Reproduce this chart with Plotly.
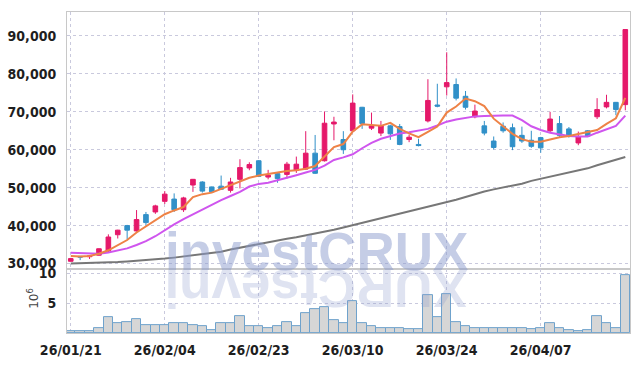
import plotly.graph_objects as go
from plotly.subplots import make_subplots

dates = [
    "26/01/21", "26/01/22", "26/01/23", "26/01/26", "26/01/27", "26/01/28", "26/01/29", "26/01/30",
    "26/02/02", "26/02/03", "26/02/04", "26/02/05", "26/02/06", "26/02/09", "26/02/10", "26/02/11",
    "26/02/12", "26/02/13", "26/02/19", "26/02/20", "26/02/23", "26/02/24", "26/02/25", "26/02/26",
    "26/02/27", "26/03/03", "26/03/04", "26/03/05", "26/03/06", "26/03/09", "26/03/10", "26/03/11",
    "26/03/12", "26/03/13", "26/03/16", "26/03/17", "26/03/18", "26/03/19", "26/03/20", "26/03/23",
    "26/03/24", "26/03/25", "26/03/26", "26/03/27", "26/03/30", "26/03/31", "26/04/01", "26/04/02",
    "26/04/03", "26/04/06", "26/04/07", "26/04/08", "26/04/09", "26/04/10", "26/04/13", "26/04/14",
    "26/04/15", "26/04/16", "26/04/17", "26/04/20",
]

tick_dates = ["26/01/21", "26/02/04", "26/02/23", "26/03/10", "26/03/24", "26/04/07"]

open_ = [30600, 31900, 31800, 32200, 33300, 37600, 40000, 38600, 42900, 43600,
         46400, 47000, 44200, 50700, 51500, 50200, 50400, 49300, 52200, 55200,
         57100, 52800, 53700, 53500, 54600, 54900, 59100, 57100, 66800, 62700,
         65000, 71200, 65700, 64400, 66300, 66100, 62700, 61400, 67600, 71800,
         76600, 77200, 74100, 68700, 66300, 62300, 66200, 65800, 63800, 62500,
         63200, 65000, 66900, 65500, 61800, 65000, 68700, 71300, 72500, 71900]
high = [31500, 32000, 32100, 34000, 37700, 38900, 40200, 44100, 43600, 45500,
        49100, 48500, 47600, 52300, 51700, 50300, 53200, 52600, 57500, 56700,
        57300, 54700, 53900, 56800, 58200, 64900, 63900, 70100, 68700, 64900,
        74600, 71300, 69800, 67600, 66600, 66800, 64000, 62900, 78600, 77400,
        85700, 78800, 75500, 71900, 67600, 63500, 67200, 66900, 66100, 65000,
        63400, 70000, 68900, 66000, 64800, 65200, 73600, 74500, 72600, 91700]
low = [30500, 30900, 31200, 32100, 33000, 36600, 36400, 38400, 40100, 43100,
       45700, 43600, 43600, 48900, 48700, 48700, 49400, 48700, 49800, 54600,
       52800, 52200, 51300, 52400, 53900, 54700, 53600, 56900, 62500, 58900,
       64800, 65500, 65200, 63600, 62600, 61200, 62000, 60900, 67200, 71200,
       74300, 73000, 70600, 68300, 63800, 60100, 64500, 59900, 61800, 60500,
       59200, 64500, 63300, 63200, 61200, 63400, 68100, 70900, 69100, 70400]
close = [31300, 31700, 32000, 33900, 37000, 38800, 38800, 41600, 40800, 45200,
         48300, 44200, 47300, 52200, 49100, 48900, 49600, 51500, 55300, 56100,
         53000, 53300, 52400, 56200, 56200, 59100, 53800, 67000, 67300, 60000,
         72300, 66900, 66300, 66300, 64200, 61400, 63300, 61100, 73000, 71500,
         77700, 73600, 71200, 70200, 64400, 60600, 65000, 60800, 62300, 60900,
         60500, 68100, 63800, 63800, 63500, 63600, 70600, 72500, 70600, 91700]

ma_short = [31990, 31880, 31990, 32580, 33500, 34750, 36200, 38200, 39800, 41400,
            43000, 44000, 44900, 47500, 48300, 48700, 49700, 50500, 51600, 52600,
            53200, 53600, 54000, 54400, 54600, 55000, 55700, 58300, 60700, 61500,
            64800, 66700, 66500, 66300, 67100, 65500, 64300, 63300, 64700, 66100,
            69800, 71400, 73500, 72800, 71500, 68200, 66200, 64200, 62800, 62100,
            62100, 62700, 63300, 63600, 64100, 64600, 65200, 66800, 68300, 73700]
ma_mid = [32840, 32700, 32600, 32580, 32900, 33400, 34000, 34900, 35900, 37200,
          38800, 40300, 41700, 43000, 44200, 45600, 46700, 47800, 48900, 50300,
          51000, 51300, 51900, 52500, 53300, 54000, 54700, 55800, 57300, 58000,
          58800, 60400, 61800, 62900, 63700, 64300, 64600, 65100, 65500, 66400,
          67400, 68000, 68500, 68800, 68900, 69000, 69000, 69000, 67800, 66200,
          65200, 64500, 64000, 63600, 63500, 63500, 64500, 65500, 66300, 69000]
ma_long = [30000, 30050, 30100, 30180, 30280, 30400, 30540, 30700, 30880, 31080,
           31300, 31560, 31840, 32140, 32450, 32780, 33110, 33700, 34200, 34700,
           35200, 35750, 36150, 36550, 36950, 37400, 37900, 38400, 38900, 39500,
           40100, 40750, 41350, 41950, 42550, 43150, 43750, 44350, 44950, 45550,
           46150, 46800, 47550, 48300, 49000, 49550, 50050, 50500, 51050, 51800,
           52350, 53100, 53650, 54150, 54600, 55100, 55900, 56550, 57350, 58100]

volume_m = [0.3, 0.3, 0.3, 0.9, 2.6, 1.6, 1.8, 2.3, 1.4, 1.3,
            1.4, 1.6, 1.6, 1.3, 1.1, 0.45, 1.6, 1.6, 2.8, 1.1,
            1.1, 0.8, 1.1, 1.9, 1.1, 3.4, 4.1, 4.4, 2.1, 1.6,
            5.3, 1.6, 1.1, 0.8, 0.8, 0.8, 0.6, 0.6, 6.3, 2.6,
            6.6, 1.8, 1.1, 0.9, 0.9, 0.9, 0.9, 0.9, 0.75, 0.6,
            0.8, 1.6, 0.9, 0.55, 0.4, 0.55, 2.8, 1.6, 0.75, 9.8]

price_ticks = [30000, 40000, 50000, 60000, 70000, 80000, 90000]
volume_ticks = [5, 10]

UP = "#e5196a"
DOWN = "#3190c8"
GRID = "#c9c9dd"
AXLINE = "#c8c8c8"
FONT = "Liberation Sans Narrow, DejaVu Sans Condensed, Roboto Condensed, Arial Narrow, sans-serif"
TICKFONT = dict(family=FONT, size=14, color="#1e1e1e", weight="bold")

fig = make_subplots(rows=2, cols=1, shared_xaxes=True, vertical_spacing=0,
                    row_heights=[0.801, 0.199])

fig.add_trace(go.Candlestick(
    x=dates, open=open_, high=high, low=low, close=close,
    increasing=dict(line=dict(color=UP, width=1), fillcolor=UP),
    decreasing=dict(line=dict(color=DOWN, width=1), fillcolor=DOWN),
    whiskerwidth=0, showlegend=False, hoverinfo="skip"), row=1, col=1)

fig.add_trace(go.Scatter(x=dates, y=ma_long, mode="lines",
                         line=dict(color="#777777", width=2), showlegend=False), row=1, col=1)
fig.add_trace(go.Scatter(x=dates, y=ma_mid, mode="lines",
                         line=dict(color="#cf55ee", width=2), showlegend=False), row=1, col=1)
fig.add_trace(go.Scatter(x=dates, y=ma_short, mode="lines",
                         line=dict(color="#ee8246", width=2), showlegend=False), row=1, col=1)

fig.add_trace(go.Bar(x=dates, y=volume_m, marker=dict(color="#d6d6d6",
                     line=dict(color="#6fa2cc", width=1)), showlegend=False), row=2, col=1)

axis_common = dict(type="category", range=[-0.4, 59.5], tickvals=tick_dates,
                   showgrid=True, gridcolor=GRID, griddash="dot", gridwidth=1,
                   showline=True, linecolor=AXLINE, mirror=True, ticks="",
                   zeroline=False)

fig.update_xaxes(**axis_common, showticklabels=False, rangeslider_visible=False, row=1, col=1)
fig.update_xaxes(**axis_common, showticklabels=True, ticklabelstandoff=4,
                 tickfont=TICKFONT, row=2, col=1)

fig.update_yaxes(range=[28530, 96320], tickvals=price_ticks, tickformat=",",
                 showgrid=True, gridcolor=GRID, griddash="dot", zeroline=False,
                 showline=True, linecolor=AXLINE, mirror=True, ticks="",
                 ticklabelstandoff=7, tickfont=TICKFONT, row=1, col=1)
fig.update_yaxes(range=[0, 10.75], tickvals=volume_ticks,
                 showgrid=True, gridcolor=GRID, griddash="dot", zeroline=False,
                 showline=True, linecolor=AXLINE, mirror=True, ticks="",
                 ticklabelstandoff=7, tickfont=TICKFONT, row=2, col=1)

fig.add_annotation(text="investCRUX", xref="paper", yref="paper",
                   x=0.443, y=0.253, xanchor="center", yanchor="middle", showarrow=False,
                   font=dict(family="Liberation Sans, Arial, sans-serif", size=53,
                             color="rgba(140,155,205,0.5)", weight="bold"))
fig.add_annotation(text="XURCtsevni", xref="paper", yref="paper", textangle=180,
                   x=0.443, y=0.137, xanchor="center", yanchor="middle", showarrow=False,
                   font=dict(family="Liberation Sans, Arial, sans-serif", size=53,
                             color="rgba(140,155,205,0.28)", weight="bold"))
fig.add_annotation(text="10<sup>6</sup>", xref="paper", yref="paper", textangle=-90,
                   x=(33 - 67) / 564, y=(337 - 302) / 328, xanchor="center", yanchor="middle",
                   showarrow=False, font=dict(family="DejaVu Sans, sans-serif", size=12,
                                              color="#444444"))

fig.update_layout(width=639, height=366, margin=dict(l=67, r=8, t=9, b=29),
                  paper_bgcolor="white", plot_bgcolor="white", bargap=0,
                  boxgap=0.3, hovermode=False)

fig.write_html("out.html")
